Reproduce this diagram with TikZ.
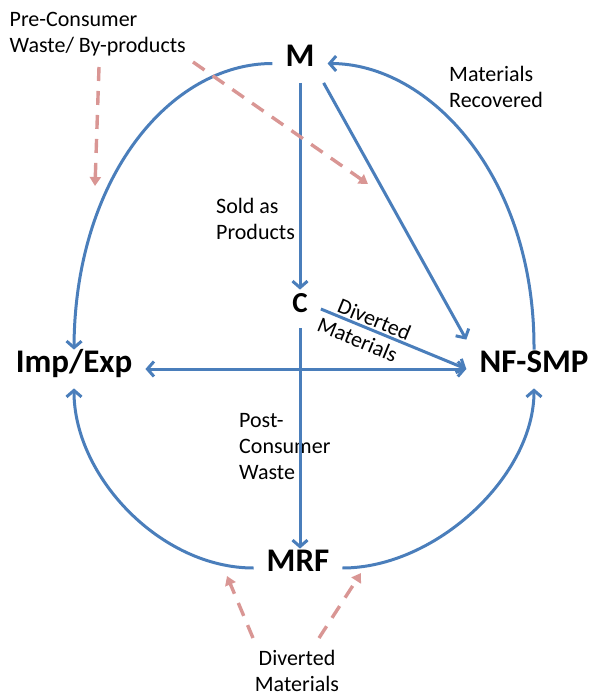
\documentclass[tikz,border=0pt]{standalone}
\usepackage{fontspec}
\setmainfont{Carlito}
\usetikzlibrary{arrows.meta}
\definecolor{flowblue}{RGB}{74,126,187}
\definecolor{wastepink}{RGB}{217,150,148}
\tikzset{
  stage/.style={font=\fontsize{33}{39}\selectfont\bfseries, inner xsep=13pt, inner ysep=16pt,
    text height=0.64em, text depth=0pt},
  lbl/.style={font=\fontsize{22}{26}\selectfont, inner sep=0pt},
  flow/.style={draw=flowblue, line width=3pt, -{Straight Barb[length=6.5pt,width=15pt]}},
  bothflow/.style={flow, {Straight Barb[length=6.5pt,width=15pt]}-{Straight Barb[length=6.5pt,width=15pt]}},
  waste/.style={draw=wastepink, line width=3.4pt, dash pattern=on 14pt off 10pt,
    -{Triangle[length=9pt,width=11pt]}}
}
\begin{document}
\begin{tikzpicture}[x=1pt,y=-1pt]
\useasboundingbox (0,0) rectangle (591,696);

% stages
\node[stage] (M) at (300,63.5) {M};
\node[stage, font=\fontsize{29}{35}\selectfont\bfseries] (C) at (300,309) {C};
\node[stage] (IE) at (74,369) {Imp/Exp};
\node[stage] (NF) at (534,369) {NF-SMP};
\node[stage] (MRF) at (298,568) {MRF};

% labels
\node[lbl, anchor=north west, align=left] (pre) at (9.5,12) {Pre-Consumer\\Waste/ By-products};
\node[lbl, anchor=north west, align=left] (rec) at (449,66) {Materials\\Recovered};
\node[lbl, anchor=north west, align=left] (sold) at (216,198) {Sold as\\Products};
\node[lbl, anchor=north west, align=left] (post) at (239,413) {Post-\\Consumer\\Waste};
\node[lbl, anchor=north, align=center] (div) at (297,650) {Diverted\\Materials};

% straight flows
\draw[flow] (M.south) -- (M.south |- C.north);
\draw[flow] (C.south) -- (C.south |- MRF.north);
\draw[flow] ([xshift=-4pt]M.south east) -- ([yshift=10pt]NF.north west);
\draw[flow] (C.east) -- node[lbl, sloped, above, pos=0.34, inner sep=1.5pt] {Diverted}
                        node[lbl, sloped, below, pos=0.29, inner sep=5pt] {Materials} (NF.west);
\draw[bothflow] (IE.east) -- (NF.west);

% curved flows
\draw[flow] (M.west) .. controls +(-102,0) and +(1,-172) .. (IE.north);
\draw[flow] (NF.north) .. controls +(1,-173) and +(102,0) .. (M.east);
\draw[flow] (MRF.west) .. controls +(-93,0) and +(0,88) .. (IE.south);
\draw[flow] (MRF.east) .. controls +(93,0) and +(0,88) .. (NF.south);

% waste streams
\coordinate (preA) at (99,67);
\coordinate (preAt) at (95,186);
\coordinate (preB) at (193,62);
\coordinate (preBt) at (368,184);
\coordinate (divA) at (253,638);
\coordinate (divAt) at (227,576);
\coordinate (divB) at (319,638);
\coordinate (divBt) at (361,573);
\draw[waste] (preA) -- (preAt);
\draw[waste] (preB) -- (preBt);
\draw[waste] (divA) -- (divAt);
\draw[waste] (divB) -- (divBt);
\end{tikzpicture}
\end{document}
